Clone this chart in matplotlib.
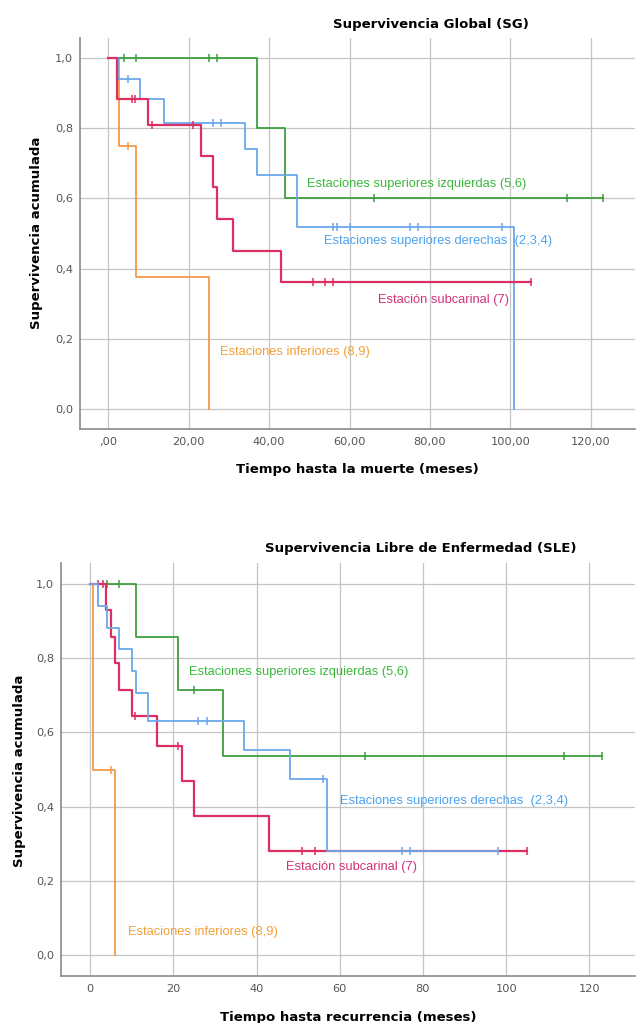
import numpy as np
import matplotlib
matplotlib.use("Agg")
import matplotlib.pyplot as plt

# Colores
VERDE = "#3f9f3f"
AZUL = "#6aa8ea"
ROJO = "#dc2f63"
NARANJA = "#f29a4a"
VERDE_T = "#3cb83c"
AZUL_T = "#4aa3ee"
ROJO_T = "#d2317a"
NARANJA_T = "#f2a03a"

# ---- Supervivencia Global (SG) ----
sg_verde_t = [0, 37, 44, 123]
sg_verde_s = [1.0, 0.8, 0.6, 0.6]
sg_verde_c = [4, 7, 25, 27, 66, 114, 123]

sg_azul_t = [0, 2.5, 8, 14, 34, 37, 47, 101]
sg_azul_s = [1.0, 0.941, 0.882, 0.815, 0.741, 0.667, 0.519, 0.0]
sg_azul_c = [5, 26, 28, 56, 57, 60, 75, 77, 98]

sg_rojo_t = [0, 2.2, 10, 23, 26, 27, 31, 43, 105]
sg_rojo_s = [1.0, 0.882, 0.81, 0.722, 0.632, 0.542, 0.451, 0.361, 0.361]
sg_rojo_c = [6, 6.7, 11, 21, 51, 54, 56, 105]

sg_naranja_t = [0, 2.7, 7, 25]
sg_naranja_s = [1.0, 0.75, 0.375, 0.0]
sg_naranja_c = [5]

# ---- Supervivencia Libre de Enfermedad (SLE) ----
sle_verde_t = [0, 11, 21, 32, 123]
sle_verde_s = [1.0, 0.857, 0.714, 0.536, 0.536]
sle_verde_c = [4, 7, 25, 66, 114, 123]

sle_azul_t = [0, 1.9, 4, 7, 10, 11, 14, 37, 48, 57, 98]
sle_azul_s = [1.0, 0.941, 0.882, 0.824, 0.765, 0.706, 0.632, 0.553, 0.474, 0.281, 0.281]
sle_azul_c = [26, 28, 56, 75, 77, 98]

sle_rojo_t = [0, 3.9, 5, 6, 7, 10, 16, 22, 25, 43, 105]
sle_rojo_s = [1.0, 0.929, 0.857, 0.786, 0.714, 0.643, 0.563, 0.469, 0.375, 0.281, 0.281]
sle_rojo_c = [2, 3, 10.7, 21, 51, 54, 105]

sle_naranja_t = [0, 0.8, 5.9]
sle_naranja_s = [1.0, 0.5, 0.0]
sle_naranja_c = [5]

etiquetas = ["Estaciones superiores izquierdas (5,6)",
             "Estaciones superiores derechas  (2,3,4)",
             "Estación subcarinal (7)",
             "Estaciones inferiores (8,9)"]
sg_pos = [(49.4, 0.64), (53.7, 0.48), (67.0, 0.311), (27.8, 0.163)]
sle_pos = [(23.7, 0.762), (60.0, 0.416), (47.2, 0.238), (9.2, 0.062)]

xticks = [0, 20, 40, 60, 80, 100, 120]
sg_xlabels = [",00", "20,00", "40,00", "60,00", "80,00", "100,00", "120,00"]
sle_xlabels = ["0", "20", "40", "60", "80", "100", "120"]
yticks = [0.0, 0.2, 0.4, 0.6, 0.8, 1.0]
ylabels = ["0,0", "0,2", "0,4", "0,6", "0,8", "1,0"]


def curva(ax, t, s, c, color, z, lw=1.3):
    t = np.array(t, dtype=float)
    s = np.array(s, dtype=float)
    ax.step(t, s, where="post", color=color, lw=lw, zorder=z)
    c = np.array(c, dtype=float)
    idx = np.searchsorted(t, c, side="right") - 1
    ax.plot(c, s[idx], ls="none", marker="|", ms=5.5, mew=1.1, color=color, zorder=z)


def preparar(ax, xlabels):
    ax.set_xlim(-7, 131)
    ax.set_ylim(-0.057, 1.057)
    ax.set_xticks(xticks)
    ax.set_xticklabels(xlabels)
    ax.set_yticks(yticks)
    ax.set_yticklabels(ylabels)
    ax.tick_params(length=0, labelsize=8.2, labelcolor="#555555")
    ax.tick_params(axis="x", pad=6)
    ax.tick_params(axis="y", pad=5)
    ax.grid(True, color="#c4c4c4", lw=0.9)
    ax.set_axisbelow(True)
    for lado in ["top", "right"]:
        ax.spines[lado].set_visible(False)
    for lado in ["left", "bottom"]:
        ax.spines[lado].set_color("#8a8a8a")
        ax.spines[lado].set_linewidth(1.2)


fig = plt.figure(figsize=(6.37, 10.23), dpi=100)

ax1 = fig.add_axes([0.1256, 0.5806, 0.8714, 0.3823])
preparar(ax1, sg_xlabels)
curva(ax1, sg_naranja_t, sg_naranja_s, sg_naranja_c, NARANJA, 3)
curva(ax1, sg_verde_t, sg_verde_s, sg_verde_c, VERDE, 4)
curva(ax1, sg_azul_t, sg_azul_s, sg_azul_c, AZUL, 5)
curva(ax1, sg_rojo_t, sg_rojo_s, sg_rojo_c, ROJO, 6, lw=1.6)
for (x, y), txt, col in zip(sg_pos, etiquetas, [VERDE_T, AZUL_T, ROJO_T, NARANJA_T]):
    ax1.text(x, y, txt, color=col, fontsize=9.3, va="center", ha="left",
             family="Liberation Sans")
ax1.set_xlabel("Tiempo hasta la muerte (meses)", fontsize=9.5, fontweight="bold", labelpad=11)
fig.text(0.677, 0.9756, "Supervivencia Global (SG)", fontsize=9.5, fontweight="bold",
         ha="center", va="center")
fig.text(0.058, 0.772, "Supervivencia acumulada", fontsize=9.5, fontweight="bold",
         rotation=90, ha="center", va="center")

ax2 = fig.add_axes([0.0958, 0.0459, 0.9012, 0.4038])
preparar(ax2, sle_xlabels)
curva(ax2, sle_naranja_t, sle_naranja_s, sle_naranja_c, NARANJA, 3)
curva(ax2, sle_verde_t, sle_verde_s, sle_verde_c, VERDE, 4)
curva(ax2, sle_rojo_t, sle_rojo_s, sle_rojo_c, ROJO, 5, lw=1.6)
curva(ax2, sle_azul_t, sle_azul_s, sle_azul_c, AZUL, 6)
for (x, y), txt, col in zip(sle_pos, etiquetas, [VERDE_T, AZUL_T, ROJO_T, NARANJA_T]):
    ax2.text(x, y, txt, color=col, fontsize=9.3, va="center", ha="left",
             family="Liberation Sans")
ax2.set_xlabel("Tiempo hasta recurrencia (meses)", fontsize=9.5, fontweight="bold", labelpad=12)
fig.text(0.661, 0.4643, "Supervivencia Libre de Enfermedad (SLE)", fontsize=9.5,
         fontweight="bold", ha="center", va="center")
fig.text(0.031, 0.247, "Supervivencia acumulada", fontsize=9.5, fontweight="bold",
         rotation=90, ha="center", va="center")

fig.savefig("out.png", dpi=100)
